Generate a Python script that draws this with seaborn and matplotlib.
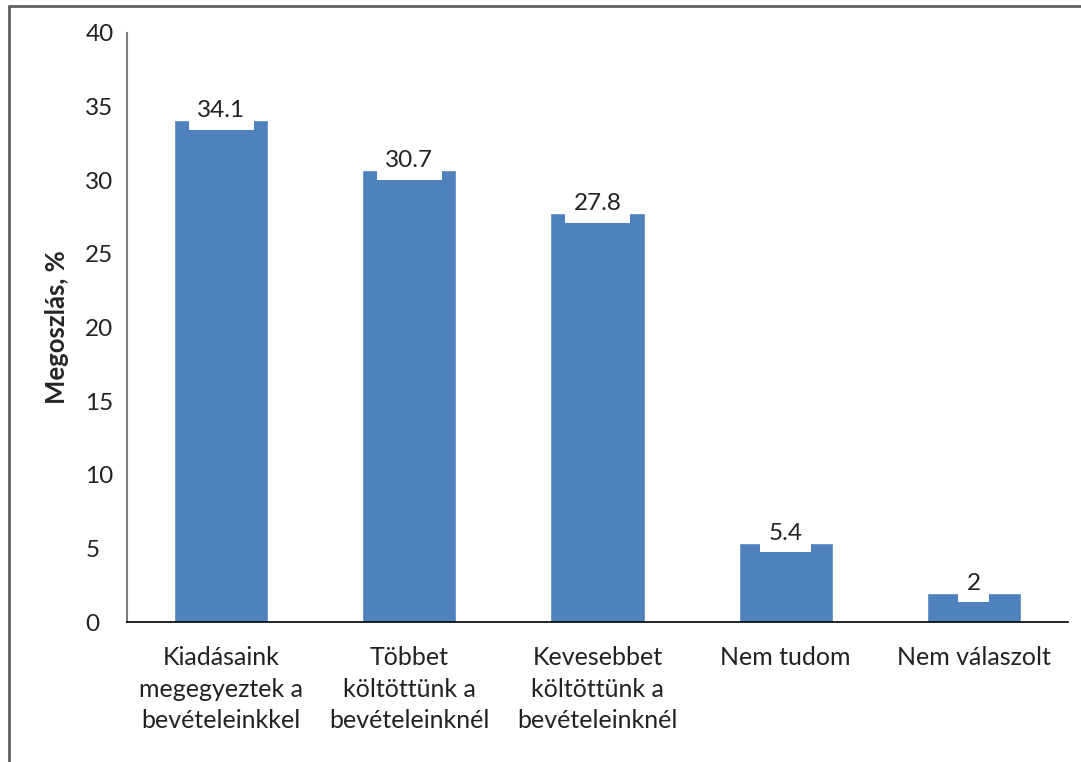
import matplotlib
matplotlib.use("Agg")
import pandas as pd
import seaborn as sns
from matplotlib import pyplot as plt
from matplotlib.lines import Line2D

valaszok = ["Kiadásaink\nmegegyeztek a\nbevételeinkkel",
            "Többet\nköltöttünk a\nbevételeinknél",
            "Kevesebbet\nköltöttünk a\nbevételeinknél",
            "Nem tudom",
            "Nem válaszolt"]
megoszlas = [34.1, 30.7, 27.8, 5.4, 2]
cimkek = ["34.1", "30.7", "27.8", "5.4", "2"]

df = pd.DataFrame({"valasz": valaszok, "megoszlas": megoszlas})

sns.set_style("white")
plt.rcParams['font.family'] = ['Lato', 'DejaVu Sans']

fig = plt.figure(figsize=(10.81, 7.62), dpi=100)
ax = fig.add_axes([0.1175, 0.1837, 0.8705, 0.773])

sns.barplot(data=df, x="valasz", y="megoszlas", color="#4F81BD",
            width=0.5, saturation=1, ax=ax)

for i, (v, c) in enumerate(zip(megoszlas, cimkek)):
    ax.annotate(c, (i, v), xytext=(0, -1), textcoords="offset points",
                ha="center", va="bottom", fontsize=17.5, color="#222222",
                bbox=dict(boxstyle="square,pad=0.35", fc="white", ec="none"))

ax.set_ylim(0, 40)
ax.set_xlim(-0.5, 4.5)
ax.set_yticks(range(0, 41, 5))
ax.tick_params(axis="y", labelsize=17.5, labelcolor="#222222", length=0, pad=30)
for t in ax.get_yticklabels():
    t.set_horizontalalignment("left")
ax.tick_params(axis="x", labelsize=18, labelcolor="#222222", length=0, pad=17)
for t in ax.get_xticklabels():
    t.set_linespacing(1.47)

ax.set_xlabel("")
ax.set_ylabel("Megoszlás, %", fontsize=18.5, fontweight="bold", labelpad=12)

sns.despine(ax=ax, top=True, right=True)
ax.spines["left"].set_color("#808080")
ax.spines["left"].set_linewidth(1.5)
ax.spines["bottom"].set_color("black")
ax.spines["bottom"].set_linewidth(1.2)

# keret a kep szelen
fig.add_artist(Line2D([8.5 / 1081, 8.5 / 1081], [0, 1 - 5.5 / 762],
                      transform=fig.transFigure, color="#606060", lw=2))
fig.add_artist(Line2D([8.5 / 1081, 1], [1 - 5.5 / 762, 1 - 5.5 / 762],
                      transform=fig.transFigure, color="#606060", lw=2))

fig.savefig("out.png", dpi=100)
